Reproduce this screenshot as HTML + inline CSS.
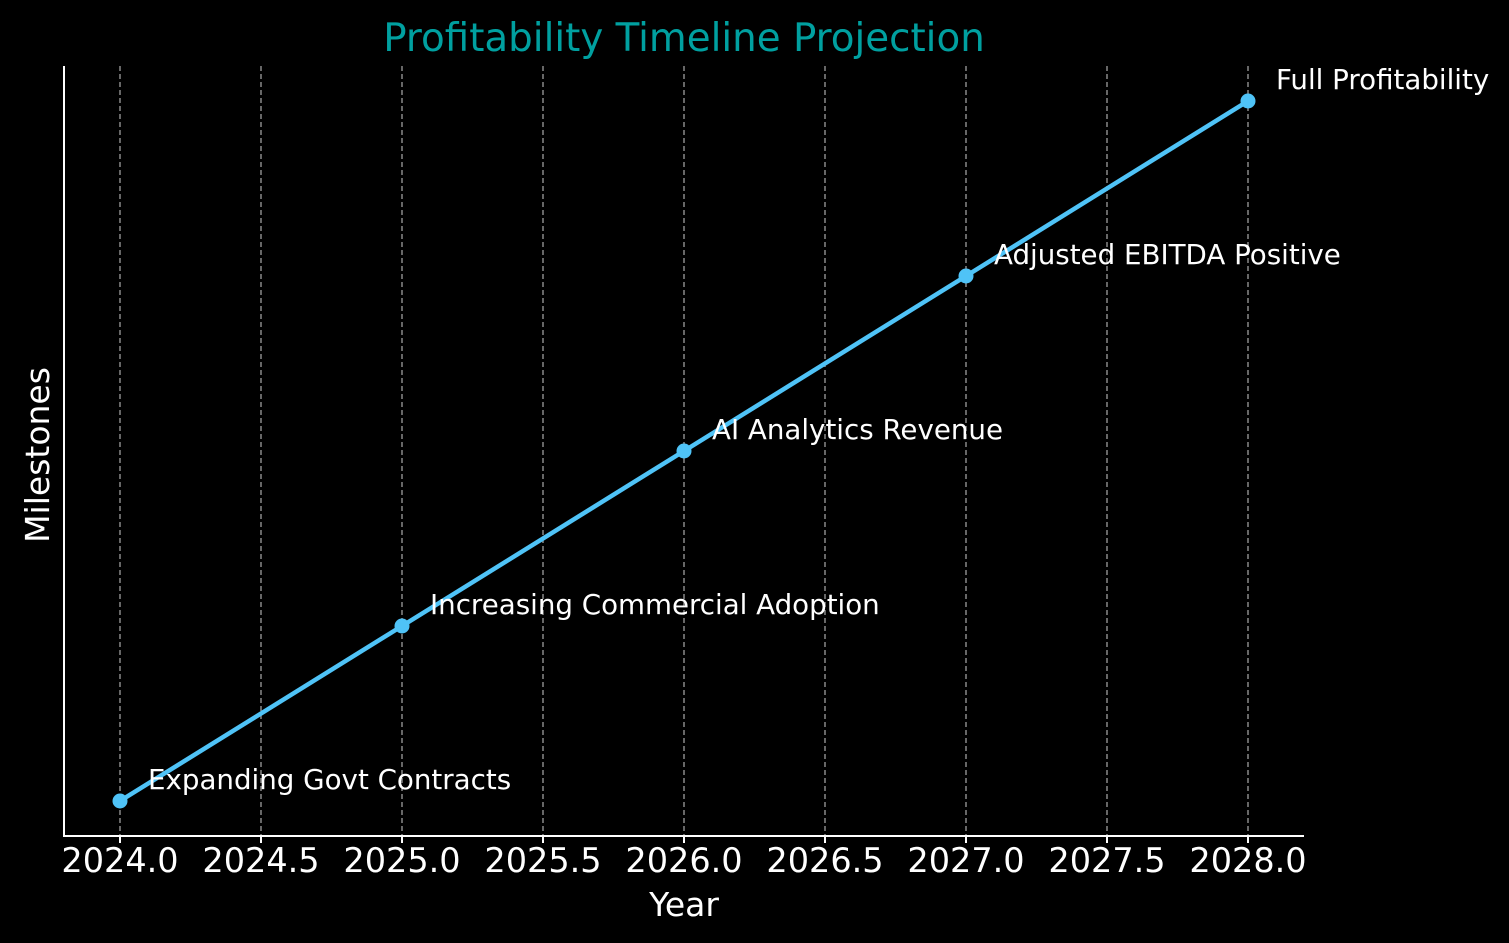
<!DOCTYPE html>
<html><head><style>
html,body{margin:0;padding:0;background:#000;}
svg{display:block;}
text{font-family:"DejaVu Sans","Liberation Sans",sans-serif;}
</style></head><body>
<svg width="1509" height="943" viewBox="0 0 1509 943" xmlns="http://www.w3.org/2000/svg">
<rect width="1509" height="943" fill="#000"/>
<g stroke="#9e9e9e" stroke-width="1.3" stroke-dasharray="5,3">
<line x1="120" y1="66" x2="120" y2="836"/>
<line x1="261" y1="66" x2="261" y2="836"/>
<line x1="402" y1="66" x2="402" y2="836"/>
<line x1="543" y1="66" x2="543" y2="836"/>
<line x1="684" y1="66" x2="684" y2="836"/>
<line x1="825" y1="66" x2="825" y2="836"/>
<line x1="966" y1="66" x2="966" y2="836"/>
<line x1="1107" y1="66" x2="1107" y2="836"/>
<line x1="1248" y1="66" x2="1248" y2="836"/>
</g>
<g stroke="#fff" stroke-width="2">
<line x1="64" y1="66" x2="64" y2="837"/>
<line x1="63" y1="836" x2="1304" y2="836"/>
<line x1="120" y1="836" x2="120" y2="843"/>
<line x1="261" y1="836" x2="261" y2="843"/>
<line x1="402" y1="836" x2="402" y2="843"/>
<line x1="543" y1="836" x2="543" y2="843"/>
<line x1="684" y1="836" x2="684" y2="843"/>
<line x1="825" y1="836" x2="825" y2="843"/>
<line x1="966" y1="836" x2="966" y2="843"/>
<line x1="1107" y1="836" x2="1107" y2="843"/>
<line x1="1248" y1="836" x2="1248" y2="843"/>
</g>
<polyline points="120,801 402,626 684,451 966,276 1248,101" fill="none" stroke="#4fc3f7" stroke-width="4.5" stroke-linejoin="round"/>
<g fill="#4fc3f7">
<circle cx="120" cy="801" r="7.5"/><circle cx="402" cy="626" r="7.5"/><circle cx="684" cy="451" r="7.5"/><circle cx="966" cy="276" r="7.5"/><circle cx="1248" cy="101" r="7.5"/>
</g>
<g fill="#fff" font-size="27.7">
<text x="148" y="789">Expanding Govt Contracts</text>
<text x="430" y="614">Increasing Commercial Adoption</text>
<text x="712" y="439">AI Analytics Revenue</text>
<text x="994" y="264">Adjusted EBITDA Positive</text>
<text x="1276" y="89">Full Profitability</text>
</g>
<g fill="#fff" font-size="33.5" text-anchor="middle">
<text x="120" y="872">2024.0</text>
<text x="261" y="872">2024.5</text>
<text x="402" y="872">2025.0</text>
<text x="543" y="872">2025.5</text>
<text x="684" y="872">2026.0</text>
<text x="825" y="872">2026.5</text>
<text x="966" y="872">2027.0</text>
<text x="1107" y="872">2027.5</text>
<text x="1248" y="872">2028.0</text>
</g>
<g fill="#fff" font-size="33" text-anchor="middle">
<text x="684" y="916">Year</text>
<text transform="translate(49,455) rotate(-90)">Milestones</text>
</g>
<text x="684" y="51" fill="#00a0a0" font-size="38.8" text-anchor="middle">Profitability Timeline Projection</text>
</svg>
</body></html>
